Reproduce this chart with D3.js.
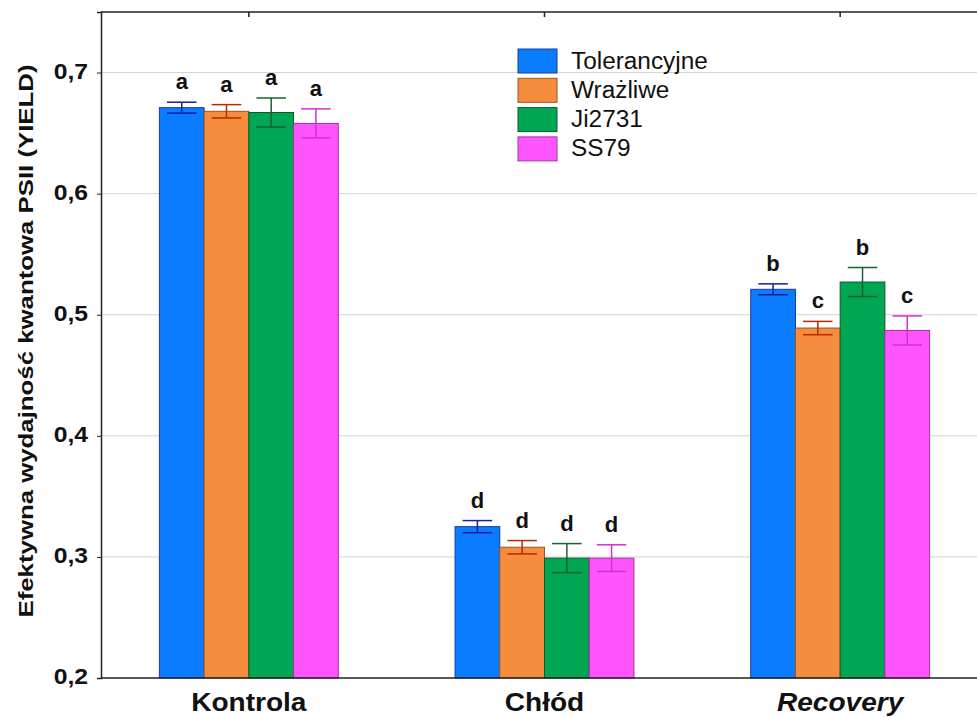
<!DOCTYPE html>
<html>
<head>
<meta charset="utf-8">
<script src="https://cdn.jsdelivr.net/npm/d3@7"></script>
<style>
  html, body { margin: 0; padding: 0; background: #fff; }
  svg { display: block; font-family: "Liberation Sans", Arial, sans-serif; }
</style>
</head>
<body>
<svg id="chart" width="977" height="717"></svg>
<script>
// Treatments (x groups) and genotype series
const categories = ["Kontrola", "Chłód", "Recovery"];
const series = ["Tolerancyjne", "Wrażliwe", "Ji2731", "SS79"];

// Mean effective quantum yield of PSII per series, in category order
const tolerancyjne = [0.671, 0.325, 0.521];
const wrazliwe     = [0.668, 0.308, 0.489];
const ji2731       = [0.667, 0.299, 0.527];
const ss79         = [0.658, 0.299, 0.487];

// Error bar half-lengths
const errTolerancyjne = [0.0045, 0.005, 0.0045];
const errWrazliwe     = [0.0055, 0.0055, 0.0055];
const errJi2731       = [0.012, 0.012, 0.012];
const errSs79         = [0.012, 0.011, 0.012];

// Homogeneous-group letters
const lettersTolerancyjne = ["a", "d", "b"];
const lettersWrazliwe     = ["a", "d", "c"];
const lettersJi2731       = ["a", "d", "b"];
const lettersSs79         = ["a", "d", "c"];

const yTicks = [0.2, 0.3, 0.4, 0.5, 0.6, 0.7];
const yLabel = "Efektywna wydajność kwantowa PSII (YIELD)";

const values  = [tolerancyjne, wrazliwe, ji2731, ss79];
const errors  = [errTolerancyjne, errWrazliwe, errJi2731, errSs79];
const letters = [lettersTolerancyjne, lettersWrazliwe, lettersJi2731, lettersSs79];

const fills   = ["#0a7cff", "#f68c3e", "#00a651", "#ff55ff"];
const strokes = ["#1a3c96", "#9c5420", "#0b5a2c", "#a032a0"];
const errCols = ["#1c1ca0", "#b82a00", "#1a6030", "#d030d0"];

const rows = [];
categories.forEach((c, ci) => {
  series.forEach((s, si) => {
    rows.push({ cat: c, ci, s, si, v: values[si][ci], e: errors[si][ci], l: letters[si][ci] });
  });
});

const svg = d3.select("#chart");
const m = { left: 101, top: 12, right: 988, bottom: 678 };

const y = d3.scaleLinear().domain([0.2, 0.75]).range([m.bottom, m.top]);
const x0 = d3.scaleBand().domain(categories).range([m.left, m.right])
  .paddingInner(0.395).paddingOuter(0.1975);
const x1 = d3.scaleBand().domain(series).range([0, x0.bandwidth()]);

// Horizontal grid
svg.append("g").selectAll("line").data(yTicks.filter(t => t > 0.2)).join("line")
  .attr("x1", m.left).attr("x2", m.right)
  .attr("y1", d => y(d)).attr("y2", d => y(d))
  .attr("stroke", "#d4d4d4").attr("stroke-width", 1);

// Bars
svg.append("g").selectAll("rect").data(rows).join("rect")
  .attr("x", d => x0(d.cat) + x1(d.s))
  .attr("y", d => y(d.v))
  .attr("width", x1.bandwidth())
  .attr("height", d => y(0.2) - y(d.v))
  .attr("fill", d => fills[d.si])
  .attr("stroke", d => strokes[d.si])
  .attr("stroke-width", 1);

// Error bars
const eb = svg.append("g").selectAll("g").data(rows).join("g")
  .attr("stroke", d => errCols[d.si]).attr("stroke-width", 1.5);
const cx = d => x0(d.cat) + x1(d.s) + x1.bandwidth() / 2;
const capHalf = x1.bandwidth() * 0.33;
eb.append("line")
  .attr("x1", cx).attr("x2", cx)
  .attr("y1", d => y(d.v + d.e)).attr("y2", d => y(d.v - d.e));
eb.append("line")
  .attr("x1", d => cx(d) - capHalf).attr("x2", d => cx(d) + capHalf)
  .attr("y1", d => y(d.v + d.e)).attr("y2", d => y(d.v + d.e));
eb.append("line")
  .attr("x1", d => cx(d) - capHalf).attr("x2", d => cx(d) + capHalf)
  .attr("y1", d => y(d.v - d.e)).attr("y2", d => y(d.v - d.e));

// Group letters
svg.append("g").selectAll("text").data(rows).join("text")
  .attr("x", cx)
  .attr("y", d => y(d.v + d.e) - 13)
  .attr("text-anchor", "middle")
  .attr("font-weight", "bold")
  .attr("font-size", 22)
  .attr("fill", "#111")
  .text(d => d.l);

// Frame: top border with inward ticks, bottom axis
svg.append("line").attr("x1", m.left).attr("x2", m.right)
  .attr("y1", m.top).attr("y2", m.top).attr("stroke", "#222").attr("stroke-width", 1.5);
svg.append("g").selectAll("line").data(categories).join("line")
  .attr("x1", d => x0(d) + x0.bandwidth() / 2).attr("x2", d => x0(d) + x0.bandwidth() / 2)
  .attr("y1", m.top).attr("y2", m.top + 5)
  .attr("stroke", "#222").attr("stroke-width", 1.5);
svg.append("line").attr("x1", m.left).attr("x2", m.right)
  .attr("y1", m.bottom).attr("y2", m.bottom).attr("stroke", "#222").attr("stroke-width", 1.5);

// Y axis
const yAxis = svg.append("g").attr("transform", `translate(${m.left},0)`)
  .call(d3.axisLeft(y).tickValues(yTicks).tickSize(4).tickPadding(10)
    .tickFormat(d => d3.format(".1f")(d).replace(".", ",")));
yAxis.select(".domain").attr("stroke", "#222").attr("stroke-width", 1.5);
yAxis.selectAll(".tick line").attr("stroke", "#222");
const sxTick = 1.15;
yAxis.selectAll(".tick text")
  .attr("font-family", "'Liberation Sans', Arial, sans-serif")
  .attr("font-size", 21.5).attr("font-weight", "bold").attr("fill", "#111")
  .attr("x", -13 / sxTick).attr("dy", "0.27em")
  .attr("transform", `scale(${sxTick},1)`);

// Category labels
const sxCat = 1.1;
svg.append("g").selectAll("text").data(categories).join("text")
  .attr("x", d => (x0(d) + x0.bandwidth() / 2) / sxCat)
  .attr("y", 711)
  .attr("transform", `scale(${sxCat},1)`)
  .attr("text-anchor", "middle")
  .attr("font-size", 25.5).attr("font-weight", "bold")
  .attr("font-style", d => d === "Recovery" ? "italic" : "normal")
  .attr("fill", "#111")
  .text(d => d);

// Y axis title
svg.append("text")
  .attr("transform", "translate(33,341) rotate(-90)")
  .attr("text-anchor", "middle")
  .attr("font-size", 21).attr("font-weight", "bold").attr("fill", "#111")
  .attr("textLength", 553).attr("lengthAdjust", "spacingAndGlyphs")
  .text(yLabel);

// Legend
const sxLeg = 1.06;
const leg = svg.append("g").attr("transform", "translate(518,49)");
const li = leg.selectAll("g").data(series).join("g")
  .attr("transform", (d, i) => `translate(0,${i * 29.3})`);
li.append("rect").attr("width", 39).attr("height", 24)
  .attr("fill", (d, i) => fills[i]).attr("stroke", (d, i) => strokes[i]).attr("stroke-width", 1);
li.append("text")
  .attr("x", 53 / sxLeg).attr("y", 19.5)
  .attr("transform", `scale(${sxLeg},1)`)
  .attr("font-size", 23).attr("fill", "#111")
  .text(d => d);
</script>
</body>
</html>
